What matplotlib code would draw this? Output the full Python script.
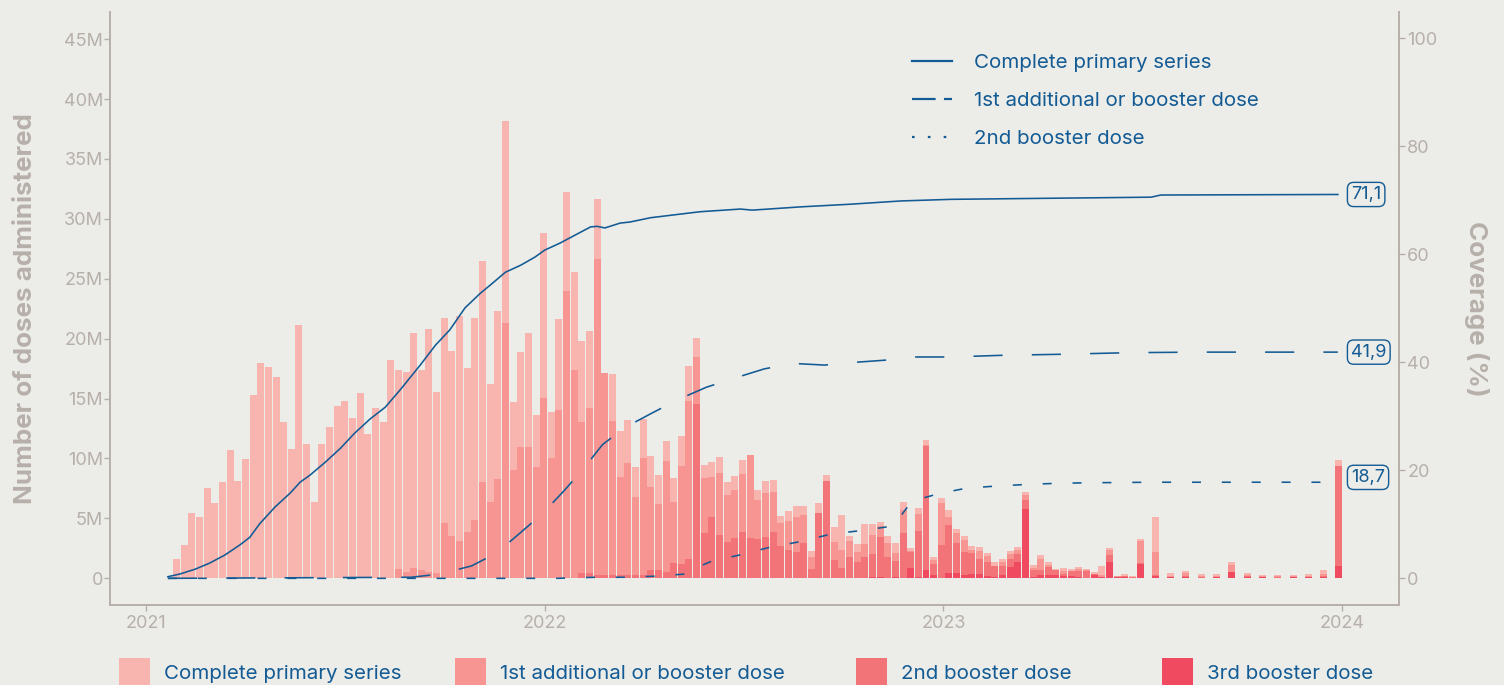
import matplotlib
matplotlib.use("Agg")
import matplotlib.pyplot as plt
import matplotlib.dates as mdates
import numpy as np
import pandas as pd
from matplotlib.patches import Rectangle
from matplotlib.lines import Line2D

plt.rcParams['font.family'] = ['Inter', 'DejaVu Sans']
plt.rcParams['lines.scale_dashes'] = False

# ---------------- data ----------------
week_start = "2021-01-29"
n_weeks = 153

complete_primary = [
    1.58, 2.75, 5.42, 5.08, 7.5, 6.25, 8.0, 10.67, 8.08, 9.92,
    15.33, 18.0, 17.67, 16.83, 13.08, 10.83, 21.17, 11.25, 6.33, 11.25,
    12.67, 14.42, 14.83, 13.42, 15.5, 12.08, 14.25, 13.08, 18.25, 16.67,
    16.75, 19.67, 16.75, 20.33, 15.13, 17.17, 15.5, 18.84, 13.75, 16.92,
    18.5, 9.92, 14.08, 16.84, 5.67, 7.92, 9.5, 4.34, 13.75, 3.92,
    7.59, 8.25, 8.16, 6.75, 6.42, 5.0, 0.0, 3.91, 3.91, 3.58,
    2.5, 3.25, 2.58, 2.42, 1.66, 2.0, 2.5, 2.91, 1.59, 1.08,
    1.25, 1.33, 1.09, 1.17, 1.17, 0.0, 0.83, 1.0, 1.0, 0.58,
    0.83, 0.92, 0.75, 0.5, 0.84, 0.5, 1.25, 2.92, 0.42, 0.67,
    1.67, 0.92, 0.33, 0.59, 0.83, 0.67, 0.25, 0.5, 0.42, 0.25,
    0.41, 0.58, 0.34, 0.34, 0.33, 0.34, 0.25, 0.33, 0.25, 0.25,
    0.25, 0.25, 0.25, 0.33, 0.25, 0.09, 0.25, 0.17, 0.16, 0.09,
    0.17, 0.75, 0.17, 0.0, 0.16, 0.09, 0.17, 0.03, 2.92, 0.03,
    0.24, 0.03, 0.17, 0.03, 0.16, 0.03, 0.16, 0.03, 0.25, 0.03,
    0.16, 0.03, 0.08, 0.03, 0.08, 0.03, 0.08, 0.03, 0.16, 0.03,
    0.33, 0.03, 0.46,
]
first_booster = [0.0] * 29 + [
    0.75, 0.5, 0.83, 0.67, 0.5, 0.45, 4.58, 3.5, 3.08, 3.83,
    4.83, 8.0, 6.33, 8.25, 21.33, 9.08, 11.0, 11.0, 9.33, 15.08,
    10.0, 14.08, 24.0, 17.42, 12.68, 13.85, 26.37, 16.87, 12.87, 8.17,
    9.33, 6.5, 9.75, 6.92, 5.5, 9.25, 5.08, 8.17, 13.17, 3.91,
    4.58, 3.33, 5.17, 3.91, 4.0, 4.83, 6.92, 3.25, 3.67, 3.33,
    1.92, 2.42, 2.92, 2.34, 1.0, 0.0, 0.0, 1.5, 1.5, 1.33,
    0.83, 1.08, 1.58, 0.92, 1.16, 0.67, 1.91, 0.08, 1.42, 0.03,
    0.34, 3.5, 0.67, 0.83, 1.0, 0.25, 0.66, 0.5, 0.0, 0.33,
    0.42, 0.33, 0.41, 0.17, 0.92, 0.17, 0.0, 0.25, 0.0, 0.17,
    0.08, 0.0, 0.17, 0.42, 0.09, 0.0, 0.0, 1.83, 0.0, 1.91,
    0.0, 0.09, 0.0, 0.24, 0.0, 0.09, 0.0, 0.09, 0.0, 0.58,
    0.0, 0.08, 0.0, 0.09, 0.0, 0.09, 0.0, 0.09, 0.0, 0.09,
    0.0, 0.16, 0.0, 0.04,
]
second_booster = [0.0] * 53 + [
    0.4, 0.4, 0.3, 0.3, 0.3, 0.25, 0.28, 0.28, 0.28, 0.69,
    0.69, 0.53, 1.28, 1.19, 1.61, 14.53, 3.78, 5.11, 3.61, 3.03,
    3.36, 3.86, 3.36, 3.28, 3.44, 3.86, 2.69, 2.36, 2.19, 2.94,
    0.78, 5.44, 8.11, 1.53, 0.86, 1.78, 1.36, 1.78, 1.95, 3.36,
    1.75, 1.36, 3.78, 1.34, 3.8, 10.39, 0.91, 2.75, 4.0, 2.5,
    1.92, 1.75, 1.25, 1.17, 0.92, 0.76, 0.67, 0.67, 0.75, 0.58,
    0.42, 0.67, 0.42, 0.17, 0.42, 0.5, 0.61, 0.09, 0.0, 0.58,
    0.0, 0.09, 0.06, 0.09, 0.0, 0.09, 0.0, 0.0, 0.0, 0.09,
    0.0, 0.09, 0.0, 0.0, 0.0, 0.0, 0.0, 0.09, 0.0, 0.0,
    0.0, 0.09, 0.0, 0.0, 0.0, 0.0, 0.0, 0.09, 0.0, 8.31,
]
third_booster = [0.0] * 91 + [
    0.08, 0.08, 0.03, 0.08, 0.0, 0.86, 0.14, 0.69, 0.28, 0.03,
    0.44, 0.44, 0.27, 0.36, 0.36, 0.19, 0.11, 0.27, 0.94, 1.36,
    5.78, 0.11, 0.27, 0.27, 0.27, 0.19, 0.19, 0.11, 0.0, 0.27,
    0.11, 1.36, 0.11, 0.11, 0.05, 1.19, 0.0, 0.19, 0.0, 0.11,
    0.0, 0.11, 0.0, 0.02, 0.0, 0.11, 0.0, 0.53, 0.0, 0.11,
    0.0, 0.11, 0.0, 0.02, 0.0, 0.11, 0.0, 0.11, 0.0, 0.11,
    0.0, 1.05,
]

# coverage lines (% of population)
cov_primary_dates = [
    "2021-01-21", "2021-02-01", "2021-02-15", "2021-02-28", "2021-03-14", "2021-03-28",
    "2021-04-06", "2021-04-15", "2021-04-29", "2021-05-13", "2021-05-22", "2021-05-31",
    "2021-06-14", "2021-06-28", "2021-07-11", "2021-07-25", "2021-08-08", "2021-08-22",
    "2021-09-09", "2021-09-23", "2021-10-06", "2021-10-20", "2021-11-03", "2021-11-12",
    "2021-11-26", "2021-12-10", "2021-12-23", "2022-01-01", "2022-01-15", "2022-01-29",
    "2022-02-12", "2022-02-18", "2022-02-25", "2022-03-11", "2022-03-20", "2022-04-08",
    "2022-05-23", "2022-06-29", "2022-07-10", "2022-08-23", "2022-10-08", "2022-11-23",
    "2023-01-08", "2023-04-09", "2023-07-10", "2023-07-19", "2023-12-28",
]
cov_primary = [
    0.3, 0.8, 1.7, 2.8, 4.3, 6.2,
    7.6, 10.1, 13.2, 15.8, 17.8, 19.1,
    21.5, 24.1, 26.9, 29.5, 31.7, 35.0,
    39.5, 43.2, 46.0, 50.1, 52.8, 54.3,
    56.7, 58.0, 59.5, 60.8, 62.1, 63.6,
    65.1, 65.2, 64.9, 65.8, 66.0, 66.8,
    67.9, 68.4, 68.2, 68.8, 69.3, 69.9,
    70.2, 70.4, 70.6, 71.0, 71.1,
]
cov_first_dates = [
    "2021-01-21", "2021-09-01", "2021-09-27", "2021-10-26", "2021-11-18", "2021-12-10",
    "2021-12-30", "2022-01-19", "2022-02-05", "2022-02-23", "2022-03-16", "2022-04-09",
    "2022-05-04", "2022-05-29", "2022-06-24", "2022-07-21", "2022-08-17", "2022-09-14",
    "2022-10-11", "2022-11-08", "2022-12-05", "2023-01-08", "2023-02-22", "2023-04-18",
    "2023-06-21", "2023-08-24", "2023-12-28",
]
cov_first = [
    0.0, 0.2, 0.8, 2.3, 4.7, 8.5,
    12.0, 16.3, 20.2, 24.8, 28.0, 30.6,
    33.2, 35.4, 37.1, 38.8, 39.8, 39.5,
    40.0, 40.4, 41.0, 41.0, 41.3, 41.5,
    41.8, 41.9, 41.9,
]
cov_second_dates = [
    "2021-01-21", "2022-01-12", "2022-02-17", "2022-03-15", "2022-04-12", "2022-05-10",
    "2022-05-14", "2022-06-02", "2022-06-30", "2022-07-27", "2022-08-23", "2022-09-20",
    "2022-10-20", "2022-11-16", "2022-11-29", "2022-12-03", "2022-12-28", "2023-01-22",
    "2023-02-19", "2023-03-19", "2023-04-15", "2023-05-14", "2023-07-11", "2023-12-12",
    "2023-12-21", "2023-12-28",
]
cov_second = [
    0.0, 0.0, 0.2, 0.2, 0.4, 0.8,
    1.5, 3.1, 4.4, 5.8, 6.8, 8.2,
    8.9, 9.7, 13.2, 14.3, 15.7, 16.7,
    17.1, 17.4, 17.6, 17.7, 17.8, 17.8,
    18.3, 18.7,
]
end_labels = ["71,1", "41,9", "18,7"]

bar_series = ["Complete primary series", "1st additional or booster dose",
              "2nd booster dose", "3rd booster dose"]
line_series = ["Complete primary series", "1st additional or booster dose",
               "2nd booster dose"]
left_ticks = [0, 5, 10, 15, 20, 25, 30, 35, 40, 45]
left_tick_labels = ["0", "5M", "10M", "15M", "20M", "25M", "30M", "35M", "40M", "45M"]
right_ticks = [0, 20, 40, 60, 80, 100]
year_ticks = ["2021-01-01", "2022-01-01", "2023-01-01", "2024-01-01"]

# ---------------- style ----------------
BG = "#ecece8"
GRAY = "#b7b0aa"
BLUE = "#135b94"
BAR_COLORS = ["#f8b5b0", "#f69592", "#f37478", "#f04a61"]

fig = plt.figure(figsize=(15.04, 6.85), dpi=100, facecolor=BG)
ax = fig.add_axes([110 / 1504, 1 - 605 / 685, (1399 - 110) / 1504, (605 - 12) / 685])
ax.set_facecolor(BG)
ax2 = ax.twinx()
ax2.set_facecolor("none")

dates = pd.date_range(week_start, periods=n_weeks, freq="7D")
stack = [np.array(third_booster), np.array(second_booster),
         np.array(first_booster), np.array(complete_primary)]
colors = [BAR_COLORS[3], BAR_COLORS[2], BAR_COLORS[1], BAR_COLORS[0]]
bottom = np.zeros(n_weeks)
for vals, col in zip(stack, colors):
    ax.bar(dates, vals, bottom=bottom, width=6.4, color=col, linewidth=0, zorder=2)
    bottom = bottom + vals

ax.set_ylim(-2.23, 47.27)
ax.set_xlim(pd.Timestamp("2020-11-29"), pd.Timestamp("2024-02-22"))
ax.set_yticks(left_ticks)
ax.set_yticklabels(left_tick_labels)
ax.set_xticks(pd.to_datetime(year_ticks))
ax.xaxis.set_major_formatter(mdates.DateFormatter("%Y"))

# lines on the coverage axis
l1, = ax2.plot(pd.to_datetime(cov_primary_dates), cov_primary, color=BLUE, lw=1.15,
               solid_joinstyle="round", zorder=3)
l2, = ax2.plot(pd.to_datetime(cov_first_dates), cov_first, color=BLUE, lw=1.15, zorder=3)
l2.set_dashes((21, 21))
l3, = ax2.plot(pd.to_datetime(cov_second_dates), cov_second, color=BLUE, lw=1.15, zorder=3)
l3.set_dashes((6.5, 15))
ax2.set_ylim(-4.94, 104.9)
ax2.set_yticks(right_ticks)

last_dates = [cov_primary_dates[-1], cov_first_dates[-1], cov_second_dates[-1]]
last_vals = [cov_primary[-1], cov_first[-1], cov_second[-1]]
for d, v, t in zip(last_dates, last_vals, end_labels):
    ax2.annotate(t, xy=(pd.Timestamp(d), v), xytext=(9.5, 0), textcoords="offset points",
                 ha="left", va="center", fontsize=13, color=BLUE,
                 bbox=dict(boxstyle="round,pad=0.2,rounding_size=0.35", fc=BG, ec=BLUE, lw=1.0))

for a in (ax, ax2):
    a.spines["top"].set_visible(False)
    for sp in ["left", "right", "bottom"]:
        a.spines[sp].set_color(GRAY)
        a.spines[sp].set_linewidth(1.2)
    a.tick_params(colors=GRAY, labelcolor=GRAY, labelsize=13, length=4, width=1)
ax.tick_params(axis="y", pad=1)
ax2.tick_params(axis="y", pad=2)
ax.tick_params(axis="x", pad=3)

ax.set_ylabel("Number of doses administered", fontsize=18.7, fontweight="bold",
              color=GRAY, labelpad=19)
ax2.set_ylabel("Coverage (%)", fontsize=18.7, fontweight="bold", color=GRAY,
               rotation=270, labelpad=37)

# top legend (lines)
handles = [Line2D([], [], color=BLUE, lw=1.6),
           Line2D([], [], color=BLUE, lw=1.6, dashes=(17, 6)),
           Line2D([], [], color=BLUE, lw=1.6, dashes=(1.9, 9.5))]
leg = ax.legend(handles, line_series, loc="upper left",
                bbox_to_anchor=((893 - 110) / 1289, 1 - (35 - 12) / 593),
                frameon=False, fontsize=14.8, labelcolor=BLUE, handlelength=1.95,
                handletextpad=1.1, labelspacing=0.95)

# bottom legend (bars)
sq_x = [119, 455, 856, 1162]
for x0, col, lab in zip(sq_x, BAR_COLORS, bar_series):
    fig.add_artist(Rectangle((x0 / 1504, 0), 31 / 1504, 27 / 685, transform=fig.transFigure,
                             color=col, lw=0))
    fig.text((x0 + 45) / 1504, 1 - 674 / 685, lab, fontsize=14.8, color=BLUE,
             ha="left", va="center")

fig.savefig("out.png", dpi=100, facecolor=BG)
